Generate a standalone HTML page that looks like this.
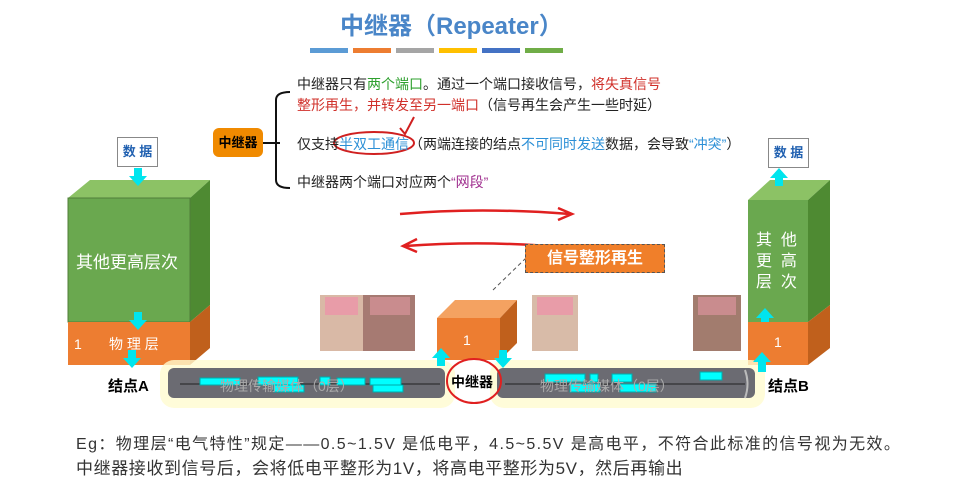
<!DOCTYPE html>
<html><head><meta charset="utf-8"><style>
body{margin:0;width:960px;height:489px;background:#fff;position:relative;overflow:hidden;font-family:"Liberation Sans","Noto Sans CJK SC",sans-serif}
.a{position:absolute;white-space:nowrap}
.t{font-size:14px;color:#222}
.r{color:#d0302a}.g{color:#2ea02e}.b{color:#2b8fd6}.p{color:#a0308f}
</style></head><body>
<div class="a" style="left:340px;top:6px;font-size:24px;font-weight:bold;color:#4a86c8">中继器（Repeater）</div>
<div class="a" style="left:310px;top:48px;width:38px;height:5px;background:#5b9bd5"></div>
<div class="a" style="left:353px;top:48px;width:38px;height:5px;background:#ed7d31"></div>
<div class="a" style="left:396px;top:48px;width:38px;height:5px;background:#a5a5a5"></div>
<div class="a" style="left:439px;top:48px;width:38px;height:5px;background:#ffc000"></div>
<div class="a" style="left:482px;top:48px;width:38px;height:5px;background:#4472c4"></div>
<div class="a" style="left:525px;top:48px;width:38px;height:5px;background:#70ad47"></div>

<div class="a" style="left:213px;top:128px;width:50px;height:29px;background:#f08a00;border-radius:6px;font-size:13px;font-weight:bold;line-height:29px;text-align:center">中继器</div>
<svg class="a" style="left:0;top:0" width="960" height="489">
<path d="M263 143H280M290 92Q276 92 276 100V180Q276 188 290 188" stroke="#111" stroke-width="2" fill="none"/>
<ellipse cx="374" cy="143" rx="40" ry="11" stroke="#d02020" stroke-width="2" fill="none"/>
<path d="M400 128L405 134L414 117" stroke="#d02020" stroke-width="2" fill="none"/>
<path d="M400 214Q480 207 570 214M558 208L572 214L558 220" stroke="#e02020" stroke-width="2.5" fill="none"/>
<path d="M570 248Q490 240 405 246M417 239L403 246L417 252" stroke="#e02020" stroke-width="2.5" fill="none"/>
<path d="M526 258L493 290" stroke="#555" stroke-dasharray="4 3"/>
<polygon points="68,198 90,180 210,180 190,198" fill="#8cc265"/>
<polygon points="190,198 210,180 210,305 190,322" fill="#4e8a32"/>
<rect x="68" y="198" width="122" height="124" fill="#6aa84f" stroke="#507e3a"/>
<polygon points="190,322 210,305 210,348 190,365" fill="#c0601c"/>
<rect x="68" y="322" width="122" height="43" fill="#ed7d31"/>
<polygon points="748,200 770,180 830,180 808,200" fill="#8cc265"/>
<polygon points="808,200 830,180 830,305 808,322" fill="#4e8a32"/>
<rect x="748" y="200" width="60" height="122" fill="#6aa84f"/>
<polygon points="808,322 830,305 830,348 808,365" fill="#c0601c"/>
<rect x="748" y="322" width="60" height="43" fill="#ed7d31"/>
<polygon points="437,318 455,300 517,300 500,318" fill="#f4a261"/>
<polygon points="500,318 517,300 517,343 500,360" fill="#c0601c"/>
<rect x="437" y="318" width="63" height="42" fill="#ed7d31"/>
<rect x="160" y="360" width="295" height="48" rx="14" fill="#fffbd0" opacity=".8"/>
<rect x="490" y="360" width="275" height="48" rx="14" fill="#fffbd0" opacity=".8"/>
<rect x="168" y="368" width="277" height="30" rx="6" fill="#6b6b72"/>
<rect x="497" y="368" width="258" height="30" rx="6" fill="#6b6b72"/>
<line x1="180" y1="384" x2="440" y2="384" stroke="#222"/>
<line x1="505" y1="384" x2="745" y2="384" stroke="#222"/>
<g fill="#00ffff" stroke="#0aa">
<rect x="258" y="377" width="40" height="8"/>
<rect x="200" y="378" width="40" height="7"/><rect x="320" y="377" width="10" height="8"/>
<rect x="337" y="378" width="28" height="7"/><rect x="274" y="385" width="30" height="7"/>
<rect x="373" y="385" width="30" height="7"/><rect x="370" y="378" width="31" height="7"/>
<rect x="545" y="374" width="40" height="8"/><rect x="590" y="374" width="8" height="8"/>
<rect x="612" y="374" width="20" height="8"/><rect x="570" y="384" width="30" height="8"/>
<rect x="620" y="384" width="36" height="8"/><rect x="700" y="372" width="22" height="8"/>
</g>
<path d="M745 370Q750 384 745 398" stroke="#bbb" fill="none" stroke-width="2"/>
<ellipse cx="474" cy="381" rx="27" ry="22" stroke="#e02020" stroke-width="2" fill="none"/>
<g fill="#00e5ee">
<polygon points="134,168 142,168 142,176 147,176 138,186 129,176 134,176"/>
<polygon points="134,312 142,312 142,320 147,320 138,330 129,320 134,320"/>
<polygon points="128,350 136,350 136,358 141,358 132,368 123,358 128,358"/>
<polygon points="437,366 445,366 445,358 450,358 441,348 432,358 437,358"/>
<polygon points="499,350 507,350 507,358 512,358 503,368 494,358 499,358"/>
<polygon points="758,372 766,372 766,362 771,362 762,352 753,362 758,362"/>
<polygon points="761,322 769,322 769,318 774,318 765,308 756,318 761,318"/>
<polygon points="775,186 783,186 783,178 788,178 779,168 770,178 775,178"/>
</g>
<rect x="320" y="295" width="43" height="56" fill="#d9b9a6"/><rect x="363" y="295" width="52" height="56" fill="#a67a72"/>
<rect x="532" y="295" width="46" height="56" fill="#d8bba8"/><rect x="693" y="295" width="48" height="56" fill="#a27c6e"/>
<rect x="325" y="297" width="33" height="18" fill="#e89ca8"/><rect x="370" y="297" width="40" height="18" fill="#c98c8e"/>
<rect x="537" y="297" width="36" height="18" fill="#e89ca8"/><rect x="698" y="297" width="38" height="18" fill="#c98c8e"/>
</svg>
<div class="a t" style="left:297px;top:74px">中继器只有<span class="g">两个端口</span>。通过一个端口接收信号，<span class="r">将失真信号</span></div>
<div class="a t" style="left:297px;top:95px"><span class="r">整形再生，并转发至另一端口</span>（信号再生会产生一些时延）</div>
<div class="a t" style="left:297px;top:134px">仅支持<span class="b">半双工通信</span>（两端连接的结点<span class="b">不可同时发送</span>数据，会导致<span class="b">“冲突”</span>）</div>
<div class="a t" style="left:297px;top:172px">中继器两个端口对应两个<span class="p">“网段”</span></div>

<div class="a" style="left:117px;top:137px;width:39px;height:28px;border:1px solid #888;font-size:13px;font-weight:bold;color:#2060b0;line-height:28px;text-align:center">数 据</div>
<div class="a" style="left:768px;top:138px;width:39px;height:28px;border:1px solid #888;font-size:13px;font-weight:bold;color:#2060b0;line-height:28px;text-align:center">数 据</div>
<div class="a" style="left:76px;top:248px;font-size:17px;color:#fff">其他更高层次</div>
<div class="a" style="left:74px;top:334px;font-size:14px;color:#fff">1 &nbsp; &nbsp; &nbsp; 物 理 层</div>
<div class="a" style="left:756px;top:230px;font-size:16px;color:#fff;line-height:21px;width:52px">其 &nbsp;他<br>更 &nbsp;高<br>层 &nbsp;次</div>
<div class="a" style="left:774px;top:334px;font-size:14px;color:#fff">1</div>
<div class="a" style="left:463px;top:332px;font-size:14px;color:#fff">1</div>
<div class="a" style="left:525px;top:244px;width:138px;height:27px;background:#f07f2a;border:1px dashed #555;color:#fff;font-weight:bold;font-size:16px;line-height:27px;text-align:center">信号整形再生</div>
<div class="a" style="left:108px;top:375px;font-size:15px;font-weight:bold">结点A</div>
<div class="a" style="left:768px;top:375px;font-size:15px;font-weight:bold">结点B</div>
<div class="a" style="left:451px;top:372px;font-size:14px;font-weight:bold">中继器</div>
<div class="a" style="left:220px;top:376px;font-size:14px;color:#aaa">物理传输媒体（0层）</div>
<div class="a" style="left:540px;top:376px;font-size:14px;color:#aaa">物理传输媒体（0层）</div>
<div class="a" style="left:76px;top:430px;font-size:16px;letter-spacing:1.4px;color:#333">Eg：物理层“电气特性”规定——0.5~1.5V 是低电平，4.5~5.5V 是高电平，不符合此标准的信号视为无效。</div>
<div class="a" style="left:76px;top:454px;font-size:17px;letter-spacing:0.6px;color:#333">中继器接收到信号后，会将低电平整形为1V，将高电平整形为5V，然后再输出</div>
</body></html>
